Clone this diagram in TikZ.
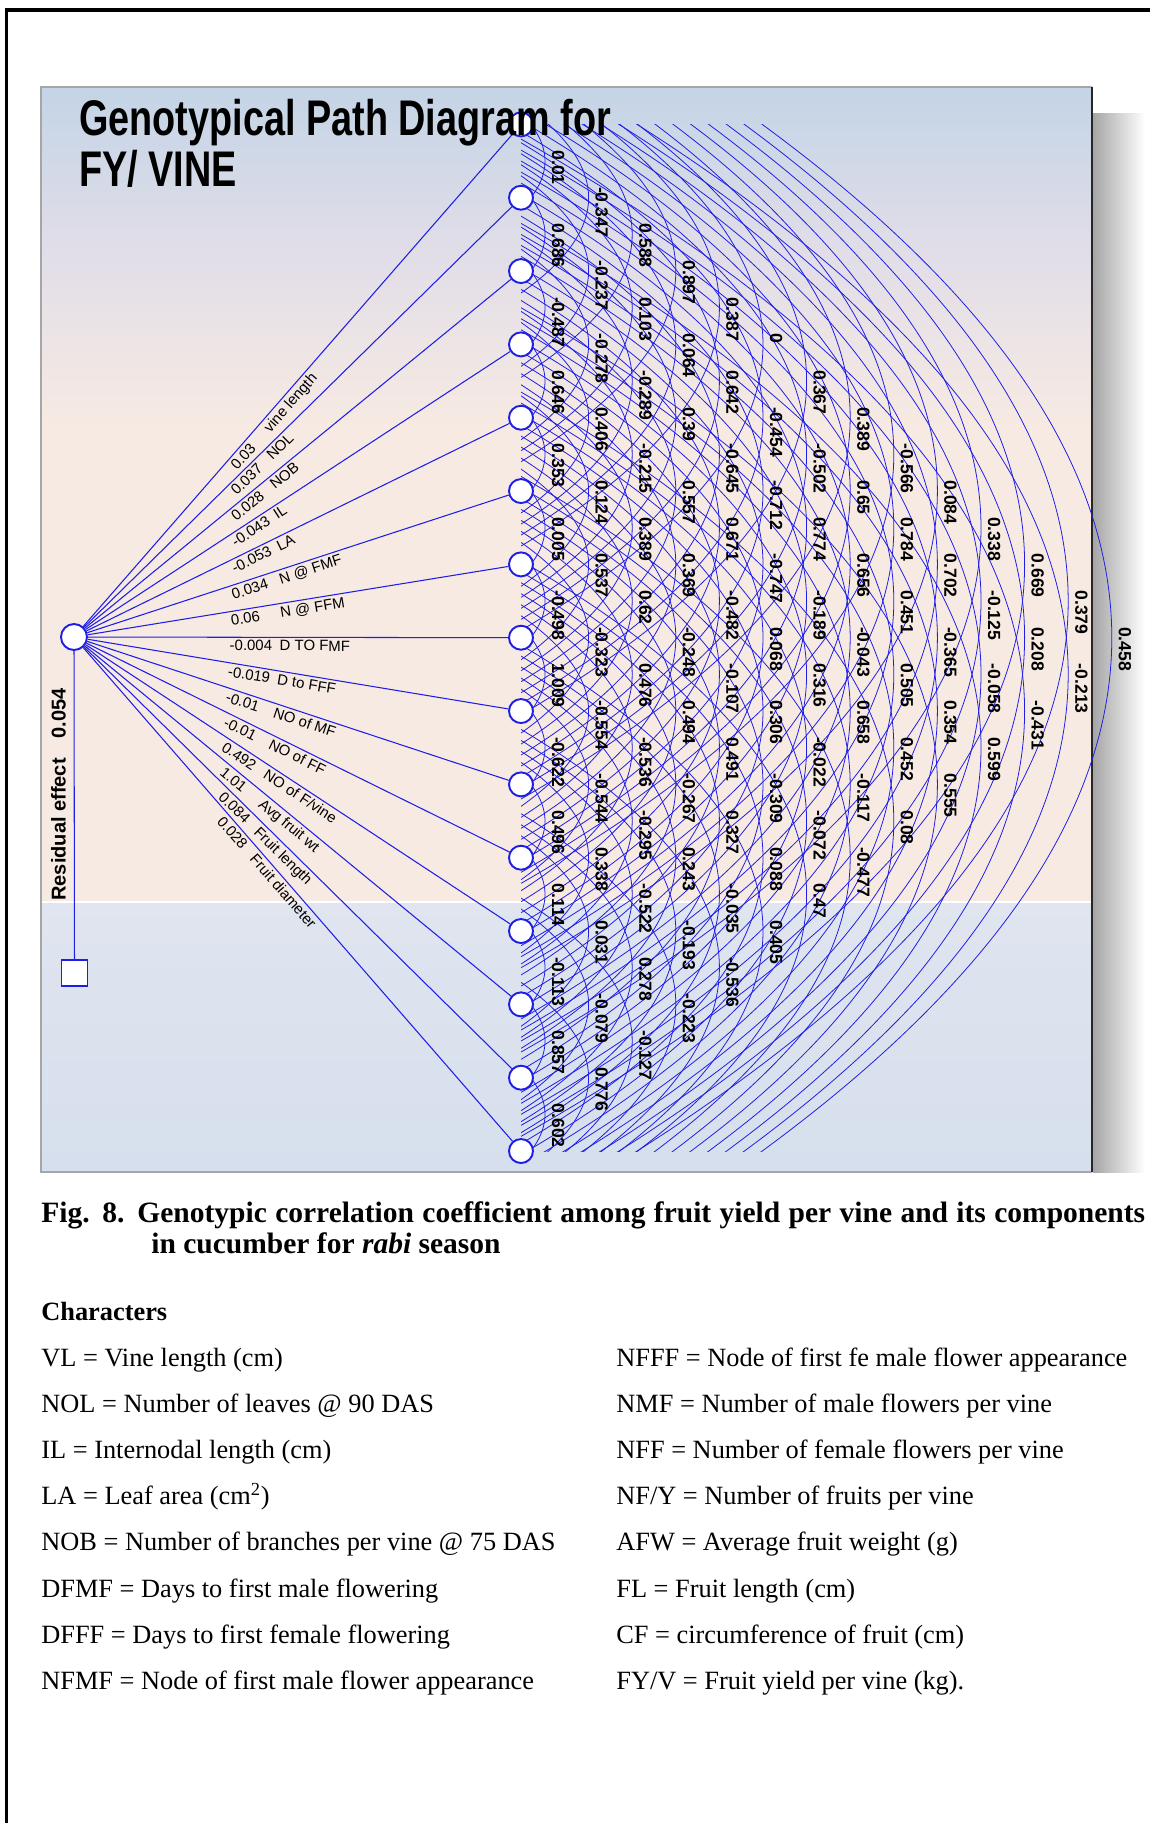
\documentclass[tikz,border=0pt]{standalone}
\usepackage{fontspec}
\setmainfont{Liberation Serif}
\setsansfont{Liberation Sans}
\usetikzlibrary{calc}
\definecolor{pathblue}{RGB}{30,30,230}
\definecolor{panelsky}{RGB}{196,212,230}
\definecolor{panellilac}{RGB}{226,222,232}
\definecolor{panelpeach}{RGB}{247,234,226}
\definecolor{panelfog}{RGB}{224,229,239}
\definecolor{panelbase}{RGB}{214,223,237}
\pgfdeclarelayer{back}
\pgfdeclarelayer{wires}
\pgfsetlayers{back,wires,main}

\begin{document}
\begin{tikzpicture}[x=0.02cm, y=-0.02cm,
  wire/.style={pathblue, line width=0.6pt},
  bow/.style={pathblue, line width=0.45pt},
  trait/.style={circle, draw=pathblue, fill=white, line width=1.1pt, minimum size=0.48cm, inner sep=0pt},
  corr/.style={font=\sffamily\bfseries\fontsize{10}{10}\selectfont, rotate=-90, anchor=west, inner sep=0pt},
  effect/.style={text=black, font=\sffamily\fontsize{8.5}{9}\selectfont, sloped, anchor=north west, inner sep=1.5pt, pos=0.33},
  legend/.style={font=\fontsize{15}{16}\selectfont, anchor=base west, inner sep=0pt}]

\useasboundingbox (0,0) rectangle (1150,1823);
% page frame
\draw[line width=1.8pt] (1150,10) -- (6.5,10) -- (6.5,1823);

\begin{pgfonlayer}{back}
% panel with its shadow
\shade[top color=panelsky, bottom color=panelpeach, middle color=panellilac] (41,87) rectangle (1092,430);
\fill[panelpeach] (41,429) rectangle (1092,902);
\shade[top color=panelfog, bottom color=panelbase] (41,902) rectangle (1092,1172);
\draw[white, line width=0.8pt] (41,902) -- (1092,902);
\shade[left color=black!35, right color=white] (1093,113) rectangle (1145,1172);
\draw[black!35, line width=0.8pt] (1092,87) -- (41,87) -- (41,1172) -- (1092,1172);
\draw[black!85, line width=1.4pt] (1092,87) -- (1092,1172);
\end{pgfonlayer}

% nodes
\node[trait, minimum size=0.52cm] (yield) at (74,637) {};
\foreach \i in {1,...,15}
  \node[trait] (t\i) at (521,{124.4+73.33*(\i-1)}) {};
\node[draw=pathblue, fill=white, line width=1pt, minimum size=0.52cm, inner sep=0pt] (resid) at (74.5,973) {};

\begin{pgfonlayer}{wires}
% correlation bows, cut to the band of the traits
\begin{scope}
  \clip (521,124.4) rectangle (1150,1151.1);
  \foreach \k in {1,...,14}{
    \pgfmathtruncatemacro\last{15-\k}
    \pgfmathsetmacro\cx{4/3*(24+43.6*(\k-1))}
    \pgfmathsetmacro\hH{1.3*36.665*\k}
    \pgfmathsetmacro\hT{\hH/3}
    \foreach \i in {1,...,\last}{
      \pgfmathtruncatemacro\j{\i+\k}
      \coordinate (mid) at ($(t\i)!0.5!(t\j)$);
      \draw[bow] ($(mid)+(0,-\hH)$) .. controls ($(mid)+(\cx,-\hT)$) and ($(mid)+(\cx,\hT)$) .. ($(mid)+(0,\hH)$);
    }
  }
\end{scope}
% direct effects
\foreach \i/\val/\name in {1/0.03/{vine length}, 2/0.037/NOL, 3/0.028/NOB, 4/-0.043/IL,
    5/-0.053/LA, 6/0.034/{N @ FMF}, 7/0.06/{N @ FFM}, 8/-0.004/{D TO FMF}, 9/-0.019/{D to FFF},
    10/-0.01/{NO of MF}, 11/-0.01/{NO of FF}, 12/0.492/{NO of F/vine}, 13/1.01/{Avg fruit wt},
    14/0.084/{Fruit length}, 15/0.028/{Fruit diameter}}
  \draw[wire] (yield) -- (t\i) node[effect] {\makebox[1cm][l]{\val}\name};
\draw[wire] (yield) -- (resid);
\end{pgfonlayer}

% correlation values
\foreach \k/\vals in {
  1/{0.01,0.686,-0.487,0.646,0.353,0.005,-0.498,1.009,-0.622,0.496,0.114,-0.113,0.857,0.602},
  2/{-0.347,-0.237,-0.278,0.406,0.124,0.537,-0.323,-0.554,-0.544,0.338,0.031,-0.079,0.776},
  3/{0.588,0.103,-0.289,-0.215,0.389,0.62,0.476,-0.536,-0.295,-0.522,0.278,-0.127},
  4/{0.897,0.064,0.39,0.557,0.369,-0.248,0.494,-0.267,0.243,-0.193,-0.223},
  5/{0.387,0.642,-0.645,0.671,-0.482,-0.107,0.491,0.327,-0.035,-0.536},
  6/{0,-0.454,-0.712,-0.747,0.068,0.306,-0.309,0.088,0.405},
  7/{0.367,-0.502,0.774,-0.189,0.316,-0.022,-0.072,0.47},
  8/{0.389,0.65,0.656,-0.043,0.658,-0.117,-0.477},
  9/{-0.566,0.784,0.451,0.505,0.452,0.08},
  10/{0.084,0.702,-0.365,0.354,0.555},
  11/{0.338,-0.125,-0.058,0.599},
  12/{0.669,0.208,-0.431},
  13/{0.379,-0.213},
  14/{0.458}}{
  \foreach \v [count=\i] in \vals {
    \pgfmathsetmacro\my{124.4+73.33*(\i-1)+36.665*\k-11}
    \node[corr] at ({514.5+43.6*\k},\my) {\v};
  }
}

\node[rotate=90, anchor=west, inner sep=0pt, font=\sffamily\bfseries\fontsize{11.4}{12}\selectfont]
  (reslabel) at (58.5,901) {Residual effect\hspace{0.4cm}0.054};

% title
\node[anchor=base west, inner sep=0pt, font=\sffamily\bfseries\fontsize{28.5}{30}\selectfont]
  (title) at (79,135) {\scalebox{0.755}[1]{Genotypical Path Diagram for}};
\node[anchor=base west, inner sep=0pt, font=\sffamily\bfseries\fontsize{28.5}{30}\selectfont]
  (subtitle) at (79,186) {\scalebox{0.755}[1]{FY/ VINE}};

% caption
\node[anchor=base west, inner sep=0pt, font=\bfseries\fontsize{16.8}{18}\selectfont] (cap1) at (41,1222)
  {\makebox[22.08cm][s]{Fig. 8. Genotypic correlation coefficient among fruit yield per vine and its components}};
\node[anchor=base west, inner sep=0pt, font=\bfseries\fontsize{16.8}{18}\selectfont] (cap2) at (151,1253)
  {in cucumber for \textit{rabi} season};

% legend
\node[legend, font=\bfseries\fontsize{15}{16}\selectfont] (chars) at (41,1320) {Characters};
\foreach \r/\txt in {1/{VL = Vine length (cm)}, 2/{NOL = Number of leaves @ 90 DAS},
    3/{IL = Internodal length (cm)}, 4/{LA = Leaf area (cm\textsuperscript{2})},
    5/{NOB = Number of branches per vine @ 75 DAS}, 6/{DFMF = Days to first male flowering},
    7/{DFFF = Days to first female flowering}, 8/{NFMF = Node of first male flower appearance}}
  \node[legend] (left\r) at (41,{1366+46.2*(\r-1)}) {\txt};
\foreach \r/\txt in {1/{NFFF = Node of first fe male flower appearance}, 2/{NMF = Number of male flowers per vine},
    3/{NFF = Number of female flowers per vine}, 4/{NF/Y = Number of fruits per vine},
    5/{AFW = Average fruit weight (g)}, 6/{FL = Fruit length (cm)},
    7/{CF = circumference of fruit (cm)}, 8/{FY/V = Fruit yield per vine (kg).}}
  \node[legend] (right\r) at (616,{1366+46.2*(\r-1)}) {\txt};
\end{tikzpicture}
\end{document}
